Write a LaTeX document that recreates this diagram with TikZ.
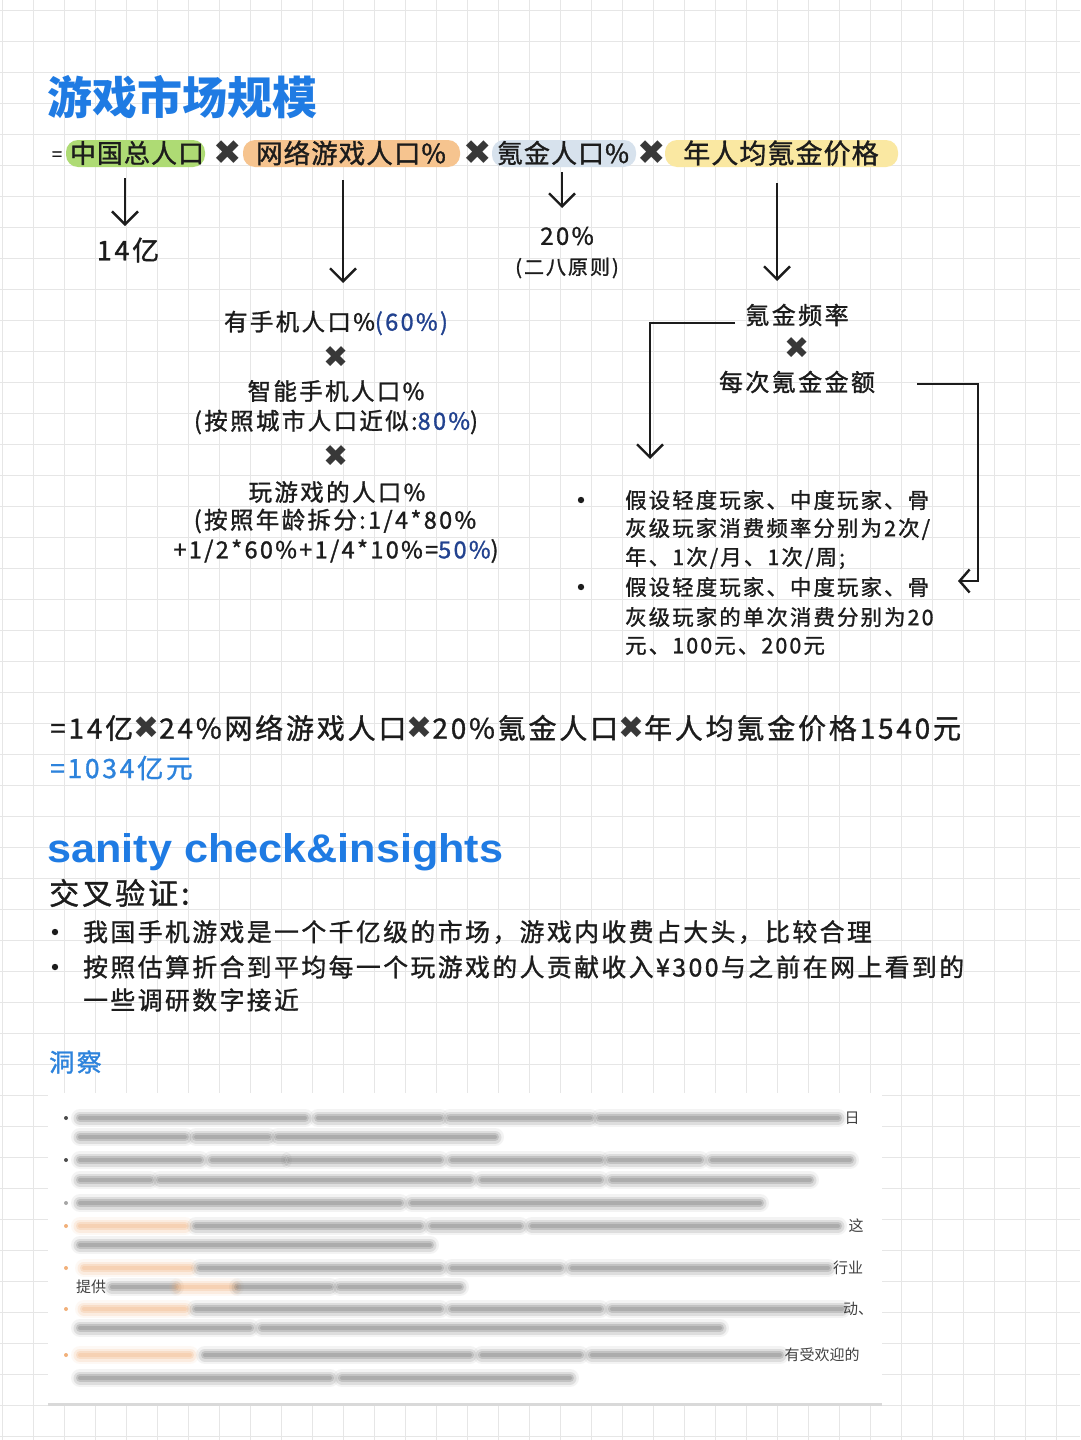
\documentclass[tikz,border=0pt]{standalone}
\usepackage{fontspec}
\setmainfont{Noto Sans CJK SC}
\newfontfamily\cjkbold{Noto Sans CJK SC}
\newfontfamily\handA[LetterSpace=4,FakeBold=1.2]{Noto Sans CJK SC}
\newfontfamily\handB[LetterSpace=10,FakeBold=1.2]{Noto Sans CJK SC}
\newfontfamily\dejavu{DejaVu Sans}
\newfontfamily\arialfam[FakeStretch=1.08]{Liberation Sans}
\usetikzlibrary{arrows.meta}
\definecolor{gridc}{HTML}{E6E6E6}
\definecolor{ink}{HTML}{1C1C1C}
\definecolor{ttlblue}{HTML}{1F7BE3}
\definecolor{numblue}{HTML}{22428F}
\definecolor{resblue}{HTML}{2D83DC}
\definecolor{xgray}{HTML}{383838}
\definecolor{hlgreen}{HTML}{AEDB74}
\definecolor{hlorange}{HTML}{F6C48F}
\definecolor{hlblue}{HTML}{D7E2ED}
\definecolor{hlyellow}{HTML}{FAE8A2}
\definecolor{blurgray}{HTML}{6E6E6E}
\definecolor{blurorange}{HTML}{F1B07A}
\newcommand\xm{{\dejavu\fontsize{31}{31}\selectfont\color{xgray}✖}}
\newcommand\myblur[4]{%
  \draw[line width=18pt, color=#1, opacity=.08, line cap=round] (#3,#2) -- (#4,#2);
  \draw[line width=13pt, color=#1, opacity=.16, line cap=round] (#3,#2) -- (#4,#2);
  \draw[line width=8pt, color=#1, opacity=.24, line cap=round] (#3,#2) -- (#4,#2);
  \draw[line width=4pt, color=#1, opacity=.25, line cap=round] (#3,#2) -- (#4,#2);}
\tikzset{
  hA/.style={font=\handA\fontsize{#1}{#1}\selectfont, text=ink, inner sep=0pt},
  hB/.style={font=\handB\fontsize{#1}{#1}\selectfont, text=ink, inner sep=0pt},
  xmark/.style={font=\dejavu\fontsize{#1}{#1}\selectfont, text=xgray, inner sep=0pt},
  arr/.style={line width=2.4pt, draw=ink, -{Straight Barb[length=13pt,width=26pt,line width=2.4pt]}},
  arrL/.style={line width=2.4pt, draw=ink, -{Straight Barb[length=10pt,width=23pt,line width=2.4pt]}},
  hl/.style={rounded corners=12pt},
  frag/.style={font=\fontsize{15}{15}\selectfont, text=black!75, inner sep=0pt},
}
\begin{document}
\begin{tikzpicture}[x=1pt,y=-1pt]
\fill[white] (0,0) rectangle (1080,1440);
\useasboundingbox (0,0) rectangle (1080,1440);
% grid
\foreach \k in {0,...,34} {\draw[gridc, line width=1.3pt] ({2.3+31*\k},0) -- ({2.3+31*\k},1440);}
\foreach \k in {0,...,46} {\draw[gridc, line width=1.3pt] (0,{10.7+31*\k}) -- (1080,{10.7+31*\k});}

% title
\node[anchor=west, inner sep=0pt, font=\cjkbold\bfseries\fontsize{45}{50}\selectfont, text=ttlblue] (title) at (47,97) {游戏市场规模};

% formula row
\fill[hlgreen, hl] (66,140) rectangle (205,167);
\fill[hlorange, hl] (243,140) rectangle (460,167);
\fill[hlblue, hl] (492,140) rectangle (636,167);
\fill[hlyellow, hl] (665,140) rectangle (898,167);
\node[hA=18] (eq0) at (57,156) {=};
\node[hA=26] (t1) at (137,153) {中国总人口};
\node[xmark=34] (x1) at (228,153) {✖};
\node[hA=26.5] (t2) at (351,153) {网络游戏人口\%};
\node[xmark=34] (x2) at (478,153) {✖};
\node[hA=26] (t3) at (563,153) {氪金人口\%};
\node[xmark=34] (x3) at (652,153) {✖};
\node[hA=27] (t4) at (781,153) {年人均氪金价格};

% results under the formula
\node[hB=27] (r1) at (128,250) {14亿};
\node[hB=24] (r3a) at (567,236) {20\%};
\node[hB=20] (r3b) at (567,268) {(二八原则)};

\coordinate (a1s) at (125,178); \coordinate (a1e) at (125,226);
\coordinate (a2s) at (343,180); \coordinate (a2e) at (343,283);
\coordinate (a3s) at (562,172); \coordinate (a3e) at (562,208);
\coordinate (a4s) at (777,183); \coordinate (a4e) at (777,281);
\draw[arr] (a1s) -- (a1e);
\draw[arr] (a2s) -- (a2e);
\draw[arr] (a3s) -- (a3e);
\draw[arr] (a4s) -- (a4e);

% middle column
\node[hB=23.5] (m1) at (336,323) {有手机人口\%\textcolor{numblue}{(60\%)}};
\node[xmark=30] (mx1) at (336,357) {✖};
\node[hB=23.5] (m2) at (336,391) {智能手机人口\%};
\node[hB=23.5] (m3) at (336,422) {(按照城市人口近似:\textcolor{numblue}{80\%})};
\node[xmark=30] (mx2) at (336,456) {✖};
\node[hB=23.5] (m4) at (337,492) {玩游戏的人口\%};
\node[hB=23.5] (m5) at (335,521) {(按照年龄拆分:1/4*80\%};
\node[hB=23.5] (m6) at (336,551) {+1/2*60\%+1/4*10\%=\textcolor{numblue}{50\%})};

% right column
\node[hB=24] (f1) at (797,315) {氪金频率};
\node[xmark=30] (fx) at (797,348) {✖};
\node[hB=24] (f2) at (797,382) {每次氪金金额};

\coordinate (c1s) at (735,323); \coordinate (c1e) at (650,459);
\draw[arr] (c1s) -| (c1e);
\coordinate (c2s) at (917,384); \coordinate (c2k) at (978,384); \coordinate (c2e) at (958,581);
\draw[arrL] (c2s) -- (c2k) |- (c2e);

\fill[ink] (581,500) circle (3.2pt);
\fill[ink] (581,587) circle (3.2pt);
\node[hB=21.4, anchor=west] (b1) at (625,500) {假设轻度玩家、中度玩家、骨};
\node[hB=21.4, anchor=west] (b2) at (625,529) {灰级玩家消费频率分别为2次/};
\node[hB=21.4, anchor=west] (b3) at (625,558) {年、1次/月、1次/周;};
\node[hB=21.4, anchor=west] (b4) at (625,587) {假设轻度玩家、中度玩家、骨};
\node[hB=21.4, anchor=west] (b5) at (625,617) {灰级玩家的单次消费分别为20};
\node[hB=21.4, anchor=west] (b6) at (625,646) {元、100元、200元};

% result formula
\node[hB=28, anchor=west] (res1) at (50,728) {=14亿\xm 24\%网络游戏人口\xm 20\%氪金人口\xm 年人均氪金价格1540元};
\node[hB=26.5, anchor=west, text=resblue] (res2) at (50,768) {=1034亿元};

% sanity check
\node[anchor=west, inner sep=0pt, font=\arialfam\bfseries\fontsize{40}{43}\selectfont, text=ttlblue] (sc) at (47,852) {sanity check\&insights};
\node[hB=30, anchor=west] (cv) at (49,893) {交叉验证:};
\fill[ink] (55,932) circle (3.2pt);
\fill[ink] (55,967) circle (3.2pt);
\node[hB=24.8, anchor=west] (s1) at (83,932) {我国手机游戏是一个千亿级的市场，游戏内收费占大头，比较合理};
\node[hB=24.8, anchor=west] (s2) at (83,967) {按照估算折合到平均每一个玩游戏的人贡献收入¥300与之前在网上看到的};
\node[hB=24.8, anchor=west] (s3) at (83,1000) {一些调研数字接近};
\node[hB=25, anchor=west, text=resblue] (dc) at (49,1062) {洞察};

% blurred screenshot
\fill[white] (48,1093) rectangle (882,1403);
\draw[black!15, line width=3pt] (48,1404) -- (882,1404);
\foreach \c/\y/\a/\b in {
  blurgray/1118/80/305, blurgray/1118/318/440, blurgray/1118/450/590, blurgray/1118/600/838,
  blurgray/1137/80/185, blurgray/1137/196/268, blurgray/1137/278/495,
  blurgray/1160/80/200, blurgray/1160/212/283, blurgray/1160/290/440, blurgray/1160/452/600, blurgray/1160/610/700, blurgray/1160/712/850,
  blurgray/1180/80/150, blurgray/1180/160/470, blurgray/1180/482/600, blurgray/1180/612/810,
  blurgray/1203/80/400, blurgray/1203/412/760,
  blurorange/1226/80/185, blurgray/1226/196/420, blurgray/1226/432/520, blurgray/1226/532/838,
  blurgray/1245/80/430,
  blurorange/1268/84/190, blurgray/1268/200/440, blurgray/1268/452/560, blurgray/1268/572/828,
  blurgray/1287/112/175, blurorange/1287/178/235, blurgray/1287/238/330, blurgray/1287/340/460,
  blurorange/1309/84/185, blurgray/1309/196/440, blurgray/1309/452/600, blurgray/1309/612/842,
  blurgray/1328/80/250, blurgray/1328/262/720,
  blurorange/1355/80/190, blurgray/1355/205/470, blurgray/1355/482/580, blurgray/1355/592/780,
  blurgray/1378/80/330, blurgray/1378/342/570}
  {\myblur{\c}{\y}{\a}{\b}}
\foreach \y in {1118,1160} {\fill[black!70] (66,\y) circle (2pt);}
\fill[black!35] (66,1203) circle (2pt);
\foreach \y in {1226,1268,1309,1355} {\fill[blurorange] (66,\y) circle (2pt);}
\node[frag] (g1) at (852,1118) {日};
\node[frag] (g2) at (856,1226) {这};
\node[frag] (g3) at (848,1268) {行业};
\node[frag] (g4) at (91,1287) {提供};
\node[frag] (g5) at (858,1309) {动、};
\node[frag] (g6) at (822,1355) {有受欢迎的};
\end{tikzpicture}
\end{document}
